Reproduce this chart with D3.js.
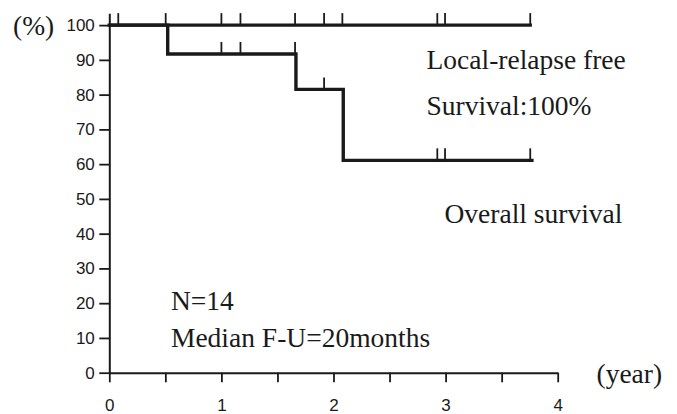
<!DOCTYPE html>
<html>
<head>
<meta charset="utf-8">
<script src="https://cdn.jsdelivr.net/npm/d3@7"></script>
<style>
  html, body { margin: 0; padding: 0; background: #fff; }
  svg { display: block; }
</style>
</head>
<body>
<svg id="chart" width="677" height="414"></svg>
<script>
// ---- data ----
const xTicks = [0, 0.5, 1, 1.5, 2, 2.5, 3, 3.5, 4];
const yTicks = [0, 10, 20, 30, 40, 50, 60, 70, 80, 90, 100];

// Local-relapse free survival curve (time in years, survival %)
const lrfTimes  = [0, 3.77];
const lrfValues = [100, 100];
const lrfCensorTimes = [0.08, 0.503, 1.0, 1.17, 1.657, 1.916, 2.079, 2.926, 2.995, 3.755];

// Overall survival curve (step after)
const osTimes  = [0, 0.521, 1.665, 2.087, 3.77];
const osValues = [100, 91.7, 81.5, 61.1, 61.1];
const osCensorTimes  = [1.0, 1.17, 1.657, 1.916, 2.926, 2.995, 3.755];
const osCensorValues = [91.7, 91.7, 91.7, 81.5, 61.1, 61.1, 61.1];

const annotations = [
  { text: "Local-relapse free", x: 2.83, y: 87.4 },
  { text: "Survival:100%",      x: 2.83, y: 74.1 },
  { text: "Overall survival",   x: 2.99, y: 43.0 },
  { text: "N=14",               x: 0.55, y: 18.0 },
  { text: "Median F-U=20months",x: 0.55, y: 7.5 }
];

// ---- scales ----
const svg = d3.select("#chart");
const x = d3.scaleLinear().domain([0, 4]).range([109.3, 557.7]);
const y = d3.scaleLinear().domain([0, 103.4]).range([372.7, 13.3]);

const ink = "#1a1a1a";
const tickFont = "'Liberation Sans', Arial, Helvetica, sans-serif";
const serif = "'Liberation Serif', 'Times New Roman', Times, serif";

// ---- axes ----
const yAxis = d3.axisLeft(y).tickValues(yTicks).tickSize(10).tickSizeOuter(0).tickPadding(4.5);
const gy = svg.append("g").attr("transform", `translate(${x(0)},0)`).call(yAxis)
  .attr("font-size", 17).attr("font-family", tickFont);
gy.select(".domain").attr("stroke", ink).attr("stroke-width", 2);
gy.selectAll(".tick line").attr("stroke", ink).attr("stroke-width", 1.8);
gy.selectAll(".tick text").attr("font-size", 17).attr("fill", ink);

const xAxis = d3.axisBottom(x).tickValues(xTicks).tickSize(9.6).tickSizeOuter(0).tickPadding(16.5)
  .tickFormat(d => Number.isInteger(d) ? d3.format("d")(d) : "");
const gx = svg.append("g").attr("transform", `translate(0,${y(0)})`).call(xAxis)
  .attr("font-size", 17).attr("font-family", tickFont);
gx.select(".domain").attr("stroke", ink).attr("stroke-width", 2);
gx.selectAll(".tick line").attr("stroke", ink).attr("stroke-width", 1.8);
gx.selectAll(".tick text").attr("font-size", 17).attr("fill", ink);

// ---- curves ----
const step = d3.line().x(d => x(d[0])).y(d => y(d[1])).curve(d3.curveStepAfter);

svg.append("path")
  .datum(osTimes.map((t, i) => [t, osValues[i]]))
  .attr("d", step).attr("fill", "none").attr("stroke", ink)
  .attr("stroke-width", 3.4).attr("stroke-linejoin", "miter").attr("stroke-linecap", "square");

svg.append("path")
  .datum(lrfTimes.map((t, i) => [t, lrfValues[i]]))
  .attr("d", step).attr("fill", "none").attr("stroke", ink)
  .attr("stroke-width", 3.4).attr("stroke-linecap", "butt");

// censor marks
const markLen = 12;
svg.append("g").selectAll("line").data(lrfCensorTimes).join("line")
  .attr("x1", d => x(d)).attr("x2", d => x(d))
  .attr("y1", y(100)).attr("y2", y(100) - markLen)
  .attr("stroke", ink).attr("stroke-width", 1.8);

svg.append("g").selectAll("line").data(osCensorTimes).join("line")
  .attr("x1", d => x(d)).attr("x2", d => x(d))
  .attr("y1", (d, i) => y(osCensorValues[i])).attr("y2", (d, i) => y(osCensorValues[i]) - markLen)
  .attr("stroke", ink).attr("stroke-width", 1.8);

// ---- annotations ----
svg.append("g").selectAll("text").data(annotations).join("text")
  .attr("x", d => x(d.x)).attr("y", d => y(d.y))
  .attr("font-family", serif).attr("font-size", 27.5).attr("fill", ink)
  .text(d => d.text);

// axis unit labels
svg.append("text").attr("x", 13).attr("y", 35)
  .attr("font-family", serif).attr("font-size", 27.5).attr("fill", ink).text("(%)");
svg.append("text").attr("x", 596.5).attr("y", 383)
  .attr("font-family", serif).attr("font-size", 27.5).attr("fill", ink).text("(year)");
</script>
</body>
</html>
